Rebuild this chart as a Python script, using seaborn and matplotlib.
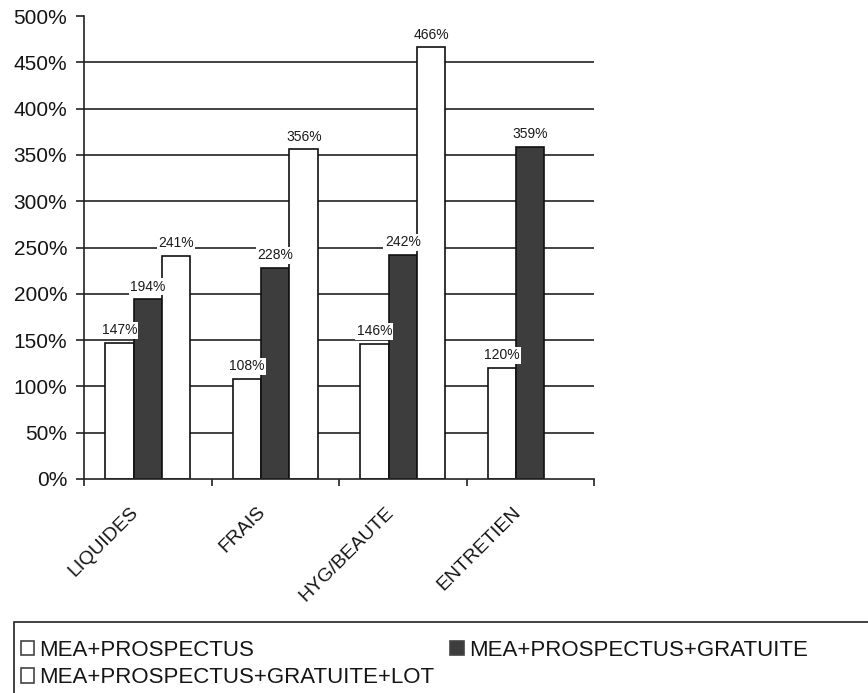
import pandas as pd
import seaborn as sns
import matplotlib.pyplot as plt
import matplotlib.transforms as mtransforms
from matplotlib.patches import Rectangle
import numpy as np

# donnees
categories = ["LIQUIDES", "FRAIS", "HYG/BEAUTE", "ENTRETIEN"]
series = ["MEA+PROSPECTUS", "MEA+PROSPECTUS+GRATUITE", "MEA+PROSPECTUS+GRATUITE+LOT"]
mea_prospectus = [147, 108, 146, 120]
mea_gratuite = [194, 228, 242, 359]
mea_gratuite_lot = [241, 356, 466, np.nan]
y_ticks = list(range(0, 501, 50))

df = pd.DataFrame({
    "cat": categories * 3,
    "serie": [series[0]] * 4 + [series[1]] * 4 + [series[2]] * 4,
    "val": mea_prospectus + mea_gratuite + mea_gratuite_lot,
})

sns.set_style("white")
plt.rcParams["font.family"] = ["Liberation Sans", "DejaVu Sans"]

fig = plt.figure(figsize=(8.68, 6.93), dpi=100)
ax = fig.add_axes([84 / 868, 1 - 479 / 693, 510 / 868, 463 / 693])

palette = {series[0]: "white", series[1]: "#3d3d3d", series[2]: "white"}
sns.barplot(data=df, x="cat", y="val", hue="serie", order=categories, hue_order=series,
            palette=palette, width=0.67, edgecolor="#111111", linewidth=1.2,
            errorbar=None, ax=ax)

# etiquettes de valeurs
for cont in ax.containers:
    ax.bar_label(cont, fmt="{:.0f}%", padding=4, fontsize=10, color="#1a1a1a",
                 bbox=dict(facecolor="white", edgecolor="none", pad=1.0))

ax.set_ylim(0, 500)
ax.set_xlim(-0.5, 3.5)
ax.set_yticks(y_ticks)
ax.set_yticklabels([f"{v}%" for v in y_ticks], fontsize=15, color="#151515")
ax.set_xlabel("")
ax.set_ylabel("")

# quadrillage
ax.set_axisbelow(True)
ax.yaxis.grid(True, color="#222222", linewidth=1.2)
ax.get_ygridlines()[-1].set_visible(False)
ax.get_ygridlines()[0].set_visible(False)

for s in ["top", "right"]:
    ax.spines[s].set_visible(False)
for s in ["left", "bottom"]:
    ax.spines[s].set_color("#222222")
    ax.spines[s].set_linewidth(1.2)

ax.tick_params(axis="y", left=True, length=6, width=1.2, color="#222222", pad=6)
ax.set_xticks(np.arange(-0.5, 4, 1), minor=True)
ax.tick_params(axis="x", which="minor", bottom=True, length=5, width=1.2, color="#222222")
ax.tick_params(axis="x", which="major", bottom=False, length=0, pad=22)
ax.set_xticks(range(4))
ax.set_xticklabels(categories, rotation=45, ha="right", va="center",
                   rotation_mode="anchor", fontsize=14, color="#151515")
offset = mtransforms.ScaledTranslation(-12 / 100, 0, fig.dpi_scale_trans)
for lbl in ax.get_xticklabels():
    lbl.set_transform(lbl.get_transform() + offset)

# legende
handles, labels = ax.get_legend_handles_labels()
ax.get_legend().remove()
order = [0, 2, 1]
leg = fig.legend([handles[i] for i in order], [labels[i] for i in order],
                 loc="upper left", bbox_to_anchor=(14 / 868, 1 - 633 / 693),
                 ncol=2, fontsize=16, frameon=False,
                 handlelength=0.6, handleheight=0.6, handletextpad=0.25,
                 columnspacing=0.7, labelspacing=0.3, borderpad=0.3,
                 borderaxespad=0)
for t in leg.get_texts():
    t.set_color("#151515")
for h in leg.legend_handles:
    h.set_edgecolor("#444444")
fig.patches.append(Rectangle((14 / 868, -0.02), 1.0, 1 - 622 / 693 + 0.02,
                             transform=fig.transFigure, fill=False,
                             edgecolor="#222222", linewidth=1.2))

fig.savefig("out.png", dpi=100, facecolor="white")
